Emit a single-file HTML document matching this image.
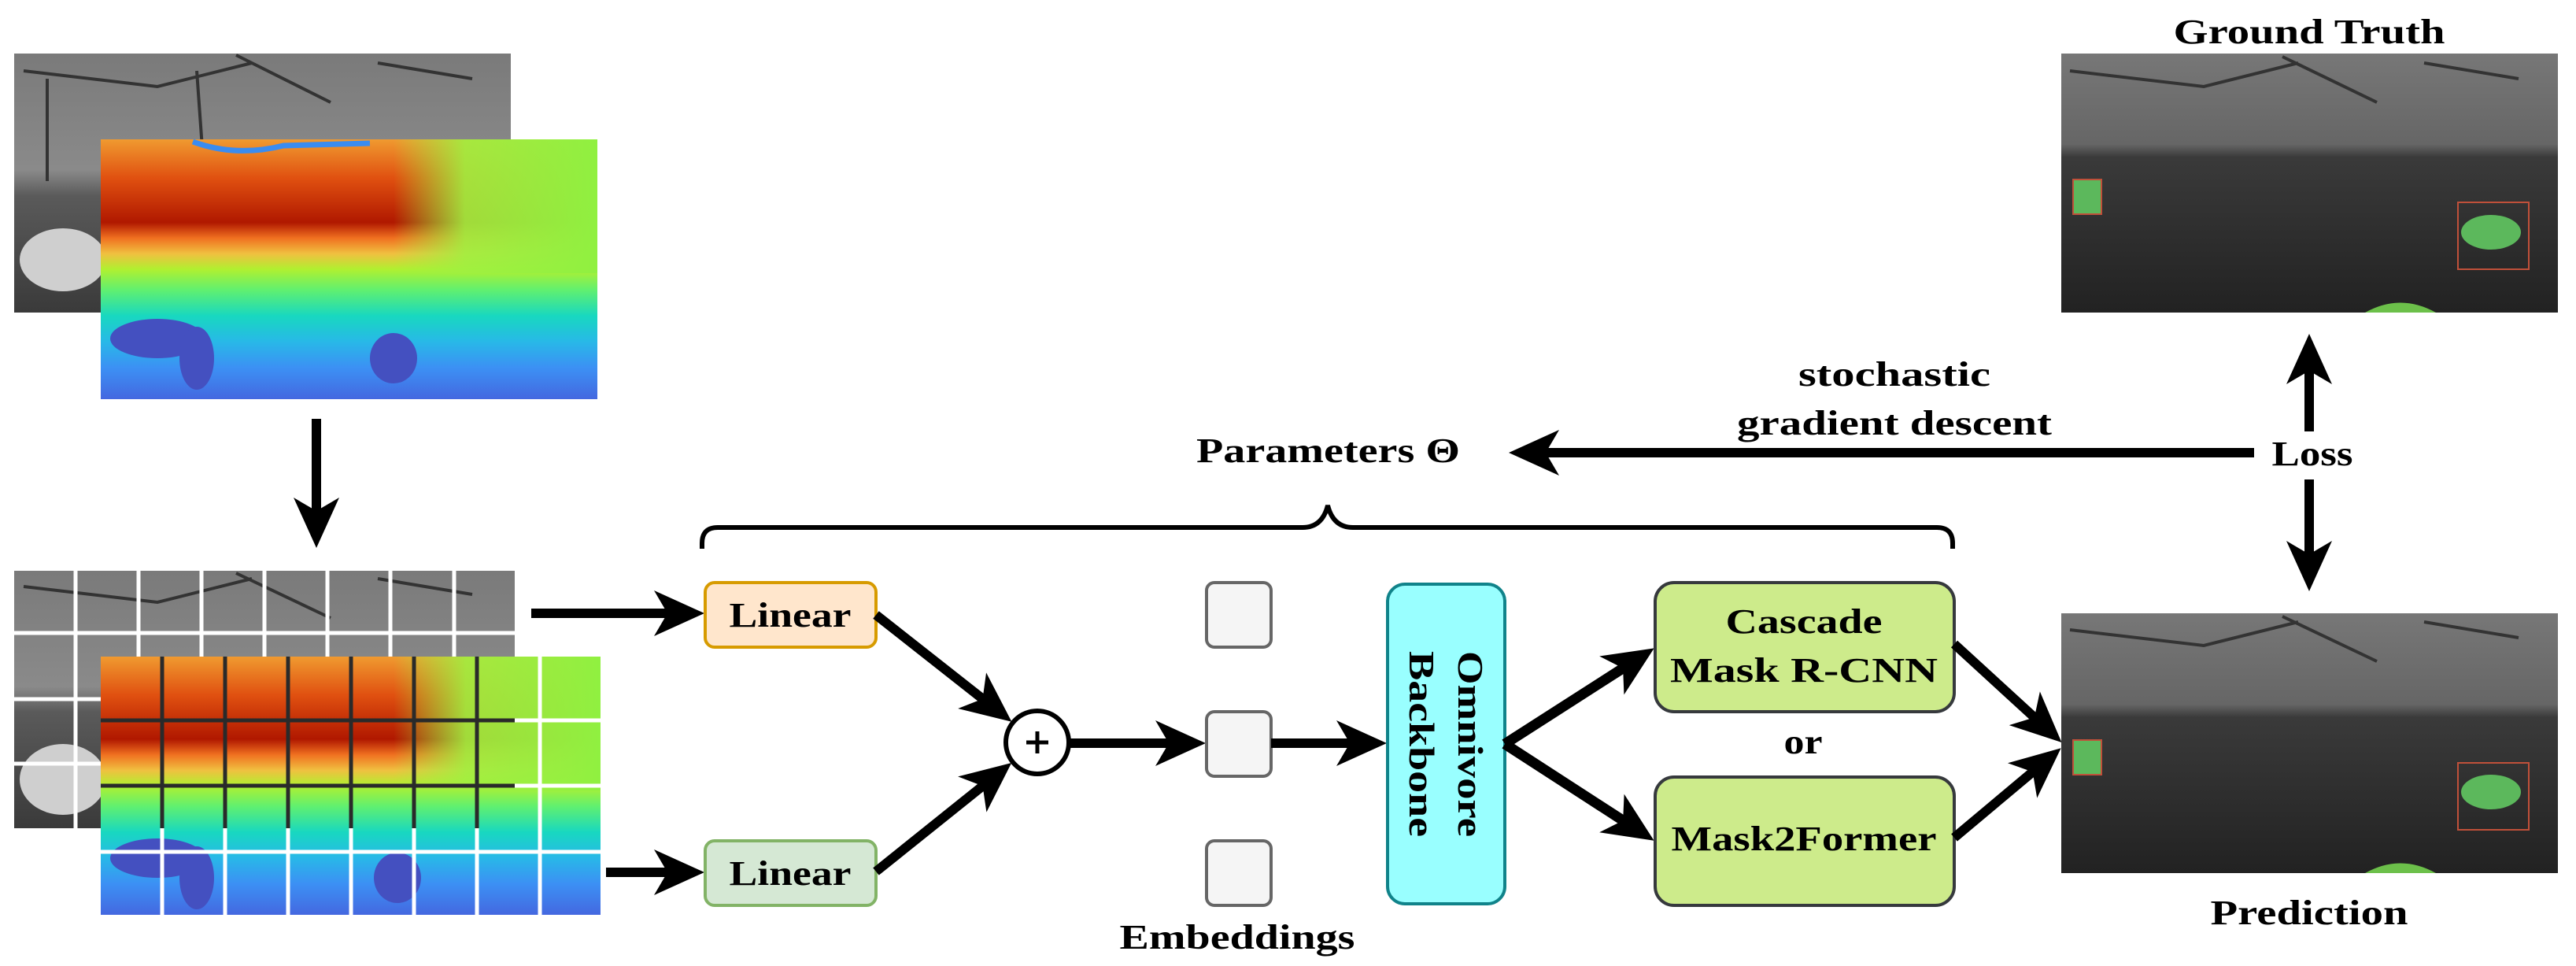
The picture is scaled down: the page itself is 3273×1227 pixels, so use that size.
<!DOCTYPE html>
<html><head><meta charset="utf-8"><style>html,body{margin:0;padding:0;background:#fff}svg{display:block}</style></head>
<body>
<svg width="3273" height="1227" viewBox="0 0 3273 1227" xmlns="http://www.w3.org/2000/svg" font-family="'Liberation Serif', serif" font-weight="bold">
<defs>
<linearGradient id="gray1" x1="0" y1="0" x2="0" y2="1">
<stop offset="0" stop-color="#7a7a7a"/><stop offset="0.45" stop-color="#8a8a8a"/><stop offset="0.55" stop-color="#5a5a5a"/><stop offset="1" stop-color="#3a3a3a"/></linearGradient>
<linearGradient id="depth" x1="0" y1="0" x2="0" y2="1">
<stop offset="0" stop-color="#f09a30"/><stop offset="0.15" stop-color="#e05010"/><stop offset="0.32" stop-color="#b01800"/><stop offset="0.38" stop-color="#f07020"/><stop offset="0.44" stop-color="#f0c040"/><stop offset="0.5" stop-color="#b0f030"/><stop offset="0.58" stop-color="#60f070"/><stop offset="0.68" stop-color="#18d8c0"/><stop offset="0.78" stop-color="#28b8e8"/><stop offset="0.88" stop-color="#3c90f4"/><stop offset="1" stop-color="#4468e0"/></linearGradient>
<linearGradient id="depthR" x1="0" y1="0" x2="1" y2="0">
<stop offset="0" stop-color="#a0f040" stop-opacity="0"/><stop offset="0.35" stop-color="#a0f040" stop-opacity="0.9"/><stop offset="1" stop-color="#90f040"/></linearGradient>
<linearGradient id="gtg" x1="0" y1="0" x2="0" y2="1">
<stop offset="0" stop-color="#777"/><stop offset="0.35" stop-color="#666"/><stop offset="0.4" stop-color="#3a3a3a"/><stop offset="1" stop-color="#222"/></linearGradient>
<clipPath id="grayclip"><rect x="18" y="725" width="636" height="327"/></clipPath>
<marker id="ah" viewBox="-70 -35 75 70" refX="-40" refY="0" markerWidth="75" markerHeight="70" markerUnits="userSpaceOnUse" orient="auto">
<path d="M0,0 L-64,-29 L-47,0 L-64,29 Z" fill="#000"/></marker>
</defs>

<rect x="18" y="68" width="631" height="329" fill="url(#gray1)"/>
<g stroke="#333" stroke-width="4" fill="none"><path d="M30,90 L200,110 L320,80 M300,70 L420,130 M480,80 L600,100 M60,100 L60,230 M250,90 L260,230"/></g>
<ellipse cx="80" cy="330" rx="55" ry="40" fill="#cfcfcf"/>
<rect x="128" y="177" width="631" height="330" fill="url(#depth)"/>
<rect x="500" y="177" width="259" height="170" fill="url(#depthR)"/>
<path d="M245,180 Q300,200 360,185 L470,182" stroke="#3a8cf0" stroke-width="7" fill="none"/>
<ellipse cx="200" cy="430" rx="60" ry="25" fill="#4450c0"/>
<ellipse cx="250" cy="455" rx="22" ry="40" fill="#4450c0"/>
<ellipse cx="500" cy="455" rx="30" ry="32" fill="#4450c0"/>

<line x1="402" y1="532" x2="402" y2="656" stroke="#000" stroke-width="12" marker-end="url(#ah)"/>

<rect x="18" y="725" width="636" height="327" fill="url(#gray1)"/>
<g stroke="#333" stroke-width="4" fill="none"><path d="M30,745 L200,765 L320,735 M300,728 L420,785 M480,735 L600,755"/></g>
<ellipse cx="80" cy="990" rx="55" ry="45" fill="#cfcfcf"/>
<g stroke="#fff" stroke-width="5">
<line x1="96" y1="725" x2="96" y2="1052"/><line x1="176" y1="725" x2="176" y2="1052"/><line x1="256" y1="725" x2="256" y2="1052"/><line x1="336" y1="725" x2="336" y2="1052"/><line x1="416" y1="725" x2="416" y2="1052"/><line x1="496" y1="725" x2="496" y2="1052"/><line x1="577" y1="725" x2="577" y2="1052"/>
<line x1="18" y1="804" x2="654" y2="804"/><line x1="18" y1="888" x2="654" y2="888"/><line x1="18" y1="970" x2="654" y2="970"/>
</g>
<rect x="128" y="834" width="635" height="328" fill="url(#depth)"/>
<rect x="500" y="834" width="263" height="170" fill="url(#depthR)"/>
<ellipse cx="200" cy="1090" rx="60" ry="25" fill="#4450c0"/>
<ellipse cx="250" cy="1115" rx="22" ry="40" fill="#4450c0"/>
<ellipse cx="505" cy="1115" rx="30" ry="32" fill="#4450c0"/>
<g stroke="#fff" stroke-width="5">
<line x1="206" y1="834" x2="206" y2="1162"/><line x1="286" y1="834" x2="286" y2="1162"/><line x1="366" y1="834" x2="366" y2="1162"/><line x1="446" y1="834" x2="446" y2="1162"/><line x1="526" y1="834" x2="526" y2="1162"/><line x1="606" y1="834" x2="606" y2="1162"/><line x1="686" y1="834" x2="686" y2="1162"/>
<line x1="128" y1="915" x2="763" y2="915"/><line x1="128" y1="998" x2="763" y2="998"/><line x1="128" y1="1082" x2="763" y2="1082"/>
</g>
<g stroke="#2a2a2a" stroke-width="5" clip-path="url(#grayclip)">
<line x1="206" y1="834" x2="206" y2="1162"/><line x1="286" y1="834" x2="286" y2="1162"/><line x1="366" y1="834" x2="366" y2="1162"/><line x1="446" y1="834" x2="446" y2="1162"/><line x1="526" y1="834" x2="526" y2="1162"/><line x1="606" y1="834" x2="606" y2="1162"/>
<line x1="128" y1="915" x2="763" y2="915"/><line x1="128" y1="998" x2="763" y2="998"/>
</g>

<line x1="675" y1="779" x2="855" y2="779" stroke="#000" stroke-width="12" marker-end="url(#ah)"/>
<line x1="770" y1="1108" x2="855" y2="1108" stroke="#000" stroke-width="12" marker-end="url(#ah)"/>

<rect x="896" y="740" width="217" height="82" rx="12" fill="#ffe6cc" stroke="#d79b00" stroke-width="4"/>
<text x="1004" y="796" font-size="44" text-anchor="middle" textLength="155" lengthAdjust="spacingAndGlyphs">Linear</text>
<rect x="896" y="1068" width="217" height="82" rx="12" fill="#d5e8d4" stroke="#82b366" stroke-width="4"/>
<text x="1004" y="1124" font-size="44" text-anchor="middle" textLength="155" lengthAdjust="spacingAndGlyphs">Linear</text>

<line x1="1113" y1="781" x2="1254" y2="892" stroke="#000" stroke-width="12" marker-end="url(#ah)"/>
<line x1="1113" y1="1107" x2="1254" y2="994" stroke="#000" stroke-width="12" marker-end="url(#ah)"/>
<circle cx="1318" cy="943" r="40" fill="#fff" stroke="#000" stroke-width="6"/>
<line x1="1304" y1="943" x2="1332" y2="943" stroke="#000" stroke-width="5"/>
<line x1="1318" y1="929" x2="1318" y2="957" stroke="#000" stroke-width="5"/>

<line x1="1359" y1="944" x2="1492" y2="944" stroke="#000" stroke-width="12" marker-end="url(#ah)"/>

<rect x="1533" y="740" width="82" height="82" rx="10" fill="#f5f5f5" stroke="#666" stroke-width="4"/>
<rect x="1533" y="904" width="82" height="82" rx="10" fill="#f5f5f5" stroke="#666" stroke-width="4"/>
<rect x="1533" y="1068" width="82" height="82" rx="10" fill="#f5f5f5" stroke="#666" stroke-width="4"/>
<text x="1572" y="1205" font-size="44" text-anchor="middle" textLength="299" lengthAdjust="spacingAndGlyphs">Embeddings</text>

<line x1="1615" y1="944" x2="1722" y2="944" stroke="#000" stroke-width="12" marker-end="url(#ah)"/>

<rect x="1763" y="742" width="149" height="406" rx="22" fill="#99ffff" stroke="#10838a" stroke-width="4"/>
<text transform="translate(1853,945) rotate(90)" font-size="46" text-anchor="middle" textLength="236" lengthAdjust="spacingAndGlyphs">Omnivore</text>
<text transform="translate(1791,945) rotate(90)" font-size="46" text-anchor="middle" textLength="236" lengthAdjust="spacingAndGlyphs">Backbone</text>

<line x1="1912" y1="945" x2="2068" y2="845" stroke="#000" stroke-width="13" marker-end="url(#ah)"/>
<line x1="1912" y1="945" x2="2068" y2="1046" stroke="#000" stroke-width="13" marker-end="url(#ah)"/>

<rect x="2103" y="740" width="380" height="164" rx="24" fill="#cdeb8b" stroke="#36393d" stroke-width="4"/>
<text x="2292" y="804" font-size="44" text-anchor="middle" textLength="199" lengthAdjust="spacingAndGlyphs">Cascade</text>
<text x="2292" y="866" font-size="44" text-anchor="middle" textLength="340" lengthAdjust="spacingAndGlyphs">Mask R-CNN</text>
<text x="2291" y="957" font-size="44" text-anchor="middle" textLength="49" lengthAdjust="spacingAndGlyphs">or</text>
<rect x="2103" y="987" width="380" height="163" rx="24" fill="#cdeb8b" stroke="#36393d" stroke-width="4"/>
<text x="2292" y="1080" font-size="44" text-anchor="middle" textLength="337" lengthAdjust="spacingAndGlyphs">Mask2Former</text>

<line x1="2483" y1="818" x2="2590" y2="916" stroke="#000" stroke-width="12" marker-end="url(#ah)"/>
<line x1="2483" y1="1064" x2="2588" y2="976" stroke="#000" stroke-width="12" marker-end="url(#ah)"/>

<path d="M892,697 L892,690 Q892,670 912,670 L1655,670 Q1680,670 1687,642 Q1694,670 1719,670 L2461,670 Q2481,670 2481,690 L2481,697" fill="none" stroke="#000" stroke-width="6"/>

<text x="1520" y="587" font-size="44" textLength="335" lengthAdjust="spacingAndGlyphs">Parameters Θ</text>
<line x1="2864" y1="575" x2="1957" y2="575" stroke="#000" stroke-width="12" marker-end="url(#ah)"/>
<text x="2407" y="490" font-size="44" text-anchor="middle" textLength="244" lengthAdjust="spacingAndGlyphs">stochastic</text>
<text x="2407" y="552" font-size="44" text-anchor="middle" textLength="400" lengthAdjust="spacingAndGlyphs">gradient descent</text>
<text x="2938" y="591" font-size="44" text-anchor="middle" textLength="103" lengthAdjust="spacingAndGlyphs">Loss</text>
<line x1="2934" y1="548" x2="2934" y2="464" stroke="#000" stroke-width="12" marker-end="url(#ah)"/>
<line x1="2934" y1="609" x2="2934" y2="711" stroke="#000" stroke-width="12" marker-end="url(#ah)"/>

<text x="2934" y="55" font-size="44" text-anchor="middle" textLength="345" lengthAdjust="spacingAndGlyphs">Ground Truth</text>
<rect x="2619" y="68" width="631" height="329" fill="url(#gtg)"/>
<g stroke="#333" stroke-width="4" fill="none"><path d="M2630,90 L2800,110 L2920,80 M2900,72 L3020,130 M3080,80 L3200,100"/></g>
<rect x="2634" y="228" width="36" height="44" fill="#5cb85c" stroke="#c0503a" stroke-width="2"/>
<rect x="3123" y="257" width="90" height="85" fill="none" stroke="#c0503a" stroke-width="2"/>
<ellipse cx="3165" cy="295" rx="38" ry="22" fill="#5cb85c"/>
<path d="M3005,397 Q3050,372 3095,397 Z" fill="#6cc04a"/>

<rect x="2619" y="779" width="631" height="330" fill="url(#gtg)"/>
<g stroke="#333" stroke-width="4" fill="none"><path d="M2630,800 L2800,820 L2920,790 M2900,783 L3020,840 M3080,790 L3200,810"/></g>
<rect x="2634" y="940" width="36" height="44" fill="#5cb85c" stroke="#c0503a" stroke-width="2"/>
<rect x="3123" y="969" width="90" height="85" fill="none" stroke="#c0503a" stroke-width="2"/>
<ellipse cx="3165" cy="1006" rx="38" ry="22" fill="#5cb85c"/>
<path d="M3005,1109 Q3050,1084 3095,1109 Z" fill="#6cc04a"/>
<text x="2934" y="1174" font-size="44" text-anchor="middle" textLength="251" lengthAdjust="spacingAndGlyphs">Prediction</text>
</svg>
</body></html>
